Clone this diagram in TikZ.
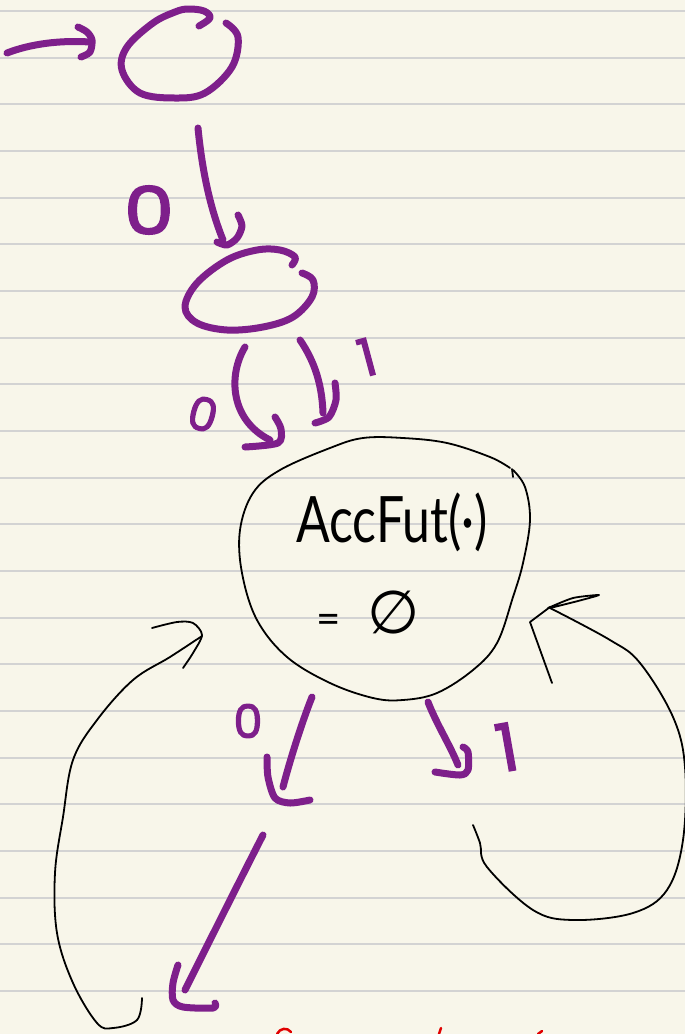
\documentclass[tikz,border=0pt]{standalone}
\usepackage{amsmath, amssymb}
\usepackage{fontspec}
\usepackage{tikz}
\usetikzlibrary{positioning}
\newfontfamily\handfont{Lato}
\newfontfamily\digitfont{Poppins}[FakeBold=2.5]
\newfontfamily\symbolfont{DejaVu Sans}

\definecolor{paper}{HTML}{F8F6EA}
\definecolor{rule}{HTML}{D3D3D3}
\definecolor{pen}{HTML}{7E1F8B}
\definecolor{redpen}{HTML}{E00000}

\begin{document}
\begin{tikzpicture}[
  x=1pt,
  y=-1pt,
  purplestroke/.style={draw=pen, line width=7pt, line cap=round, line join=round},
  inkstroke/.style={draw=black, line width=1.8pt, line cap=round, line join=round},
  digit/.style={text=pen, inner sep=0pt},
  statetext/.style={inner sep=0pt}
]

\def\ruleskip{46.67}

% paper
\fill[paper] (0,0) rectangle (685,1034);
\useasboundingbox (0,0) rectangle (685,1034);
\foreach \k in {0,...,21}
  \draw[rule, line width=2pt] (0,11+\k*\ruleskip) -- (685,11+\k*\ruleskip);

% states
\draw[purplestroke] plot[smooth, tension=0.6] coordinates {(199,26) (210,18) (204,11) (188,9) (175,12) (153,23) (127,47) (122,70) (140,93) (175,98) (205,93) (232,67) (238,37) (226,23)};
\draw[purplestroke] plot[smooth, tension=0.6] coordinates {(292,265) (295,257) (280,250) (257,250) (227,260) (197,283) (185,307) (197,323) (227,330) (263,327) (293,317) (312,297) (313,280) (302,273)};
\draw[inkstroke] plot[smooth, tension=0.6] coordinates {(510,468) (490,457) (447,443) (403,438) (363,438) (330,448) (280,470) (253,493) (240,530) (242,573) (257,620) (287,657) (330,683) (373,698) (403,700) (437,693) (473,670) (497,643) (513,597) (523,563) (530,520) (525,487) (513,470)};
\draw[inkstroke] (512,469) -- (513,477);

\node[statetext, font=\handfont\fontsize{64}{64}\selectfont, xscale=0.78] (acc) at (392,522) {AccFut(·)};
\node[statetext, font=\handfont] (empty) at (368,612)
  {{\fontsize{42}{42}\selectfont =}\hspace{26pt}{\symbolfont\fontsize{60}{60}\selectfont ∅}};

% endpoints
\coordinate (in0) at (7,53);
\coordinate (in1) at (90,42);
\coordinate (a0) at (198,128);
\coordinate (a1) at (223,240);
\coordinate (b0) at (245,347);
\coordinate (b1) at (270,440);
\coordinate (c0) at (300,340);
\coordinate (c1) at (323,413);
\coordinate (d0) at (312,697);
\coordinate (d1) at (283,787);
\coordinate (e0) at (263,835);
\coordinate (e1) at (185,990);
\coordinate (f0) at (428,702);
\coordinate (f1) at (458,765);

% purple transitions
\draw[purplestroke] (in0) .. controls (30,44) and (60,40) .. (in1);
\draw[purplestroke] plot[smooth] coordinates {(78,27) (87,32) (92,40) (90,52) (81,57)};

\draw[purplestroke] (a0) .. controls (203,180) and (213,215) .. (a1);
\draw[purplestroke] plot[smooth] coordinates {(238,215) (242,226) (237,238) (227,245) (217,242)};
\node[digit, font=\digitfont\fontsize{66}{66}\selectfont, xscale=1.2] (l0) at (149,210) {0};

\draw[purplestroke] (b0) .. controls (228,375) and (230,420) .. (b1);
\draw[purplestroke] plot[smooth] coordinates {(275,417) (281,429) (278,443) (245,447)};
\node[digit, font=\digitfont\fontsize{46}{46}\selectfont, rotate=-15] (l1) at (203,414) {0};

\draw[purplestroke] (c0) .. controls (315,362) and (322,385) .. (c1);
\draw[purplestroke] plot[smooth] coordinates {(335,383) (336,400) (329,417) (315,423)};
\node[digit, font=\digitfont\fontsize{52}{52}\selectfont, rotate=15] (l2) at (367,357) {1};

\draw[purplestroke] (d0) .. controls (302,722) and (290,760) .. (d1);
\draw[purplestroke] plot[smooth] coordinates {(267,757) (268,777) (275,798) (290,803) (310,800)};
\node[digit, font=\digitfont\fontsize{46}{46}\selectfont] (l3) at (248,721) {0};

\draw[purplestroke] (e0) .. controls (240,880) and (205,950) .. (e1);
\draw[purplestroke] plot[smooth] coordinates {(178,965) (173,983) (173,1000) (183,1007) (213,1008) (215,1003)};

\draw[purplestroke] (f0) .. controls (437,725) and (450,745) .. (f1);
\draw[purplestroke] plot[smooth] coordinates {(463,747) (468,752) (468,770) (460,775) (435,772)};
\node[digit, font=\digitfont\fontsize{66}{66}\selectfont, rotate=10] (l4) at (507,747) {1};

% black loops
\draw[inkstroke] plot[smooth, tension=0.6] coordinates {(142,998) (137,1020) (113,1028) (97,1023) (73,983) (57,933) (55,873) (63,817) (73,760) (97,720) (133,680) (170,657) (202,636)};
\draw[inkstroke] plot[smooth, tension=0.5] coordinates {(152,628) (177,622) (193,623) (202,635) (193,653) (183,668)};

\draw[inkstroke] plot[smooth, tension=0.6] coordinates {(473,825) (480,843) (487,867) (533,910) (573,920) (633,913) (667,890) (683,840) (685,767) (673,717) (640,663) (610,640) (550,608)};
\draw[inkstroke] plot[smooth, tension=0.4] coordinates {(548,608) (573,598) (599,595) (578,601) (550,608)};
\draw[inkstroke] (550,607) -- (530,622) -- (552,683);

% red marks at the page edge
\draw[redpen, line width=2.5pt, line cap=round] (277,1034) .. controls (280,1028) and (287,1027) .. (291,1032);
\draw[redpen, line width=2.5pt, line cap=round] (439,1034) -- (441,1028);
\draw[redpen, line width=2.5pt, line cap=round] (538,1034) -- (542,1031);

\end{tikzpicture}
\end{document}
